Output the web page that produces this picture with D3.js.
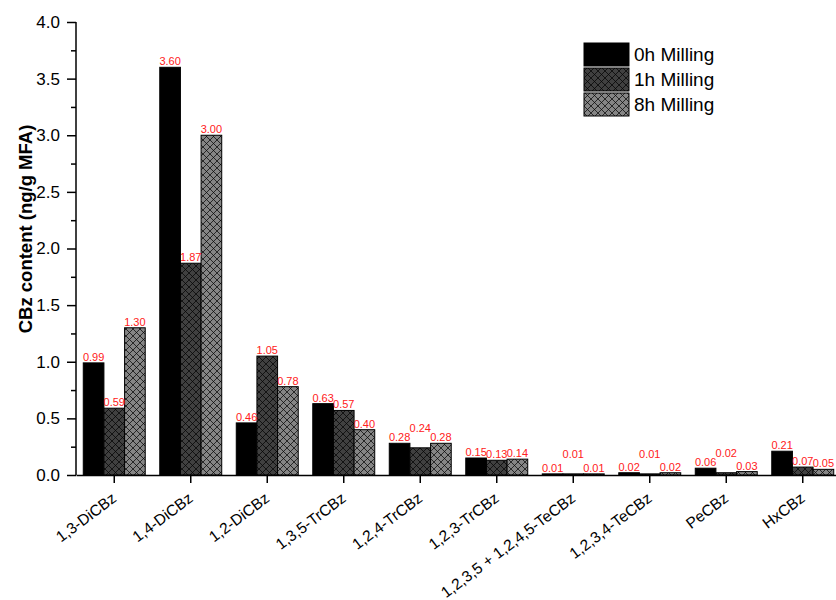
<!DOCTYPE html>
<html lang="en">
<head>
<meta charset="UTF-8">
<title>CBz content</title>
<style>
    html, body { padding:0; margin:0; background:#fff; }
    text { font-family: "Liberation Sans", Arial, sans-serif; }
</style>
</head>
<body>
<script src="https://d3js.org/d3.v7.min.js"></script>
<script>
    var categories = ['1,3-DiCBz', '1,4-DiCBz', '1,2-DiCBz', '1,3,5-TrCBz', '1,2,4-TrCBz',
                      '1,2,3-TrCBz', '1,2,3,5 + 1,2,4,5-TeCBz', '1,2,3,4-TeCBz', 'PeCBz', 'HxCBz'];
    var seriesNames = ['0h Milling', '1h Milling', '8h Milling'];
    var milling0h = [0.99, 3.60, 0.46, 0.63, 0.28, 0.15, 0.01, 0.02, 0.06, 0.21];
    var milling1h = [0.59, 1.87, 1.05, 0.57, 0.24, 0.13, 0.01, 0.01, 0.02, 0.07];
    var milling8h = [1.30, 3.00, 0.78, 0.40, 0.28, 0.14, 0.01, 0.02, 0.03, 0.05];
    var majorTicks = [0, 0.5, 1.0, 1.5, 2.0, 2.5, 3.0, 3.5, 4.0];
    var minorTicks = [0.25, 0.75, 1.25, 1.75, 2.25, 2.75, 3.25, 3.75];
    // groups whose middle label was moved up in the original
    var liftedLabels = ['1,2,4-TrCBz', '1,2,3,5 + 1,2,4,5-TeCBz', '1,2,3,4-TeCBz', 'PeCBz'];

    var width = 836,
        height = 600,
        plotLeft = 76,
        plotRight = 841,
        plotTop = 22,
        plotBottom = 475;

    var series = [milling0h, milling1h, milling8h];
    var fills = ['#000', 'url(#hatchDark)', 'url(#hatchLight)'];

    var svg = d3.select('body').append('svg')
                .attr('width', width)
                .attr('height', height);

    var defs = svg.append('defs');
    [['hatchDark', '#404040'], ['hatchLight', '#858585']].forEach(function(p) {
        var pat = defs.append('pattern')
                      .attr('id', p[0])
                      .attr('patternUnits', 'userSpaceOnUse')
                      .attr('width', 7)
                      .attr('height', 7);
        pat.append('rect').attr('width', 7).attr('height', 7).attr('fill', p[1]);
        pat.append('path')
           .attr('d', 'M0,0L7,7M7,0L0,7')
           .attr('stroke', '#000')
           .attr('stroke-width', 0.7)
           .attr('fill', 'none');
    });

    var scaleX = d3.scaleBand().domain(categories)
                   .range([plotLeft, plotRight])
                   .paddingInner(0.19)
                   .paddingOuter(0.095),
        scaleSub = d3.scaleBand().domain(d3.range(3))
                     .range([0, scaleX.bandwidth()]),
        scaleY = d3.scaleLinear().domain([0, 4])
                   .range([plotBottom, plotTop]);

    // bars
    series.forEach(function(vals, s) {
        svg.append('g').selectAll('rect')
           .data(vals)
           .enter()
           .append('rect')
           .attr('x', function(d, i) { return scaleX(categories[i]) + scaleSub(s); })
           .attr('y', function(d) { return scaleY(d); })
           .attr('width', scaleSub.bandwidth())
           .attr('height', function(d) { return plotBottom - scaleY(d); })
           .attr('fill', fills[s])
           .attr('stroke', '#000')
           .attr('stroke-width', 1);
    });

    // value labels
    series.forEach(function(vals, s) {
        svg.append('g').selectAll('text')
           .data(vals)
           .enter()
           .append('text')
           .attr('x', function(d, i) { return scaleX(categories[i]) + scaleSub(s) + scaleSub.bandwidth() / 2; })
           .attr('y', function(d, i) {
                var lift = (s === 1 && liftedLabels.indexOf(categories[i]) >= 0) ? 14 : 0;
                return scaleY(d) - 2 - lift;
           })
           .attr('text-anchor', 'middle')
           .attr('font-size', 11)
           .attr('fill', '#ff2020')
           .text(function(d) { return d.toFixed(2); });
    });

    // y axis
    var axisMinor = d3.axisLeft(scaleY).tickValues(minorTicks).tickSize(5).tickFormat('');
    var axisMajor = d3.axisLeft(scaleY).tickValues(majorTicks).tickSize(9).tickPadding(7)
                      .tickFormat(d3.format('.1f'));

    svg.append('g')
       .attr('transform', 'translate(' + plotLeft + ',0)')
       .call(axisMinor)
       .call(function(g) { g.select('.domain').remove(); });

    var gy = svg.append('g')
                .attr('class', 'yAxis')
                .attr('transform', 'translate(' + plotLeft + ',0)')
                .call(axisMajor);
    gy.selectAll('text').attr('font-size', 17).attr('fill', '#000');

    svg.selectAll('.tick line').attr('stroke-width', 1.5);
    gy.select('.domain').attr('d', 'M0,' + plotBottom + 'V' + plotTop).attr('stroke-width', 1.5);

    // x axis
    var axisX = d3.axisBottom(scaleX).tickSize(8).tickSizeOuter(0).tickFormat('');
    var gx = svg.append('g')
                .attr('class', 'xAxis')
                .attr('transform', 'translate(0,' + plotBottom + ')')
                .call(axisX);
    gx.select('.domain').attr('stroke-width', 1.5);
    gx.selectAll('.tick line').attr('stroke-width', 1.5);

    svg.append('g').selectAll('text')
       .data(categories)
       .enter()
       .append('text')
       .attr('transform', function(d) {
            return 'translate(' + (scaleX(d) + scaleX.bandwidth() / 2) + ',' + (plotBottom + 21) + ') rotate(-37)';
       })
       .attr('text-anchor', 'end')
       .attr('dy', '0.35em')
       .attr('font-size', 15.5)
       .text(function(d) { return d; });

    // y title
    svg.append('text')
       .attr('transform', 'translate(32,229) rotate(-90)')
       .attr('text-anchor', 'middle')
       .attr('font-size', 18.5)
       .attr('font-weight', 'bold')
       .text('CBz content (ng/g MFA)');

    // legend
    var legend = svg.append('g').attr('transform', 'translate(584,43)');
    seriesNames.forEach(function(name, s) {
        legend.append('rect')
              .attr('x', 0)
              .attr('y', s * 25)
              .attr('width', 45)
              .attr('height', 23)
              .attr('fill', fills[s])
              .attr('stroke', '#000')
              .attr('stroke-width', 1);
        legend.append('text')
              .attr('x', 50)
              .attr('y', s * 25 + 11.5)
              .attr('dy', '0.36em')
              .attr('font-size', 19)
              .text(name);
    });
</script>
</body>
</html>
